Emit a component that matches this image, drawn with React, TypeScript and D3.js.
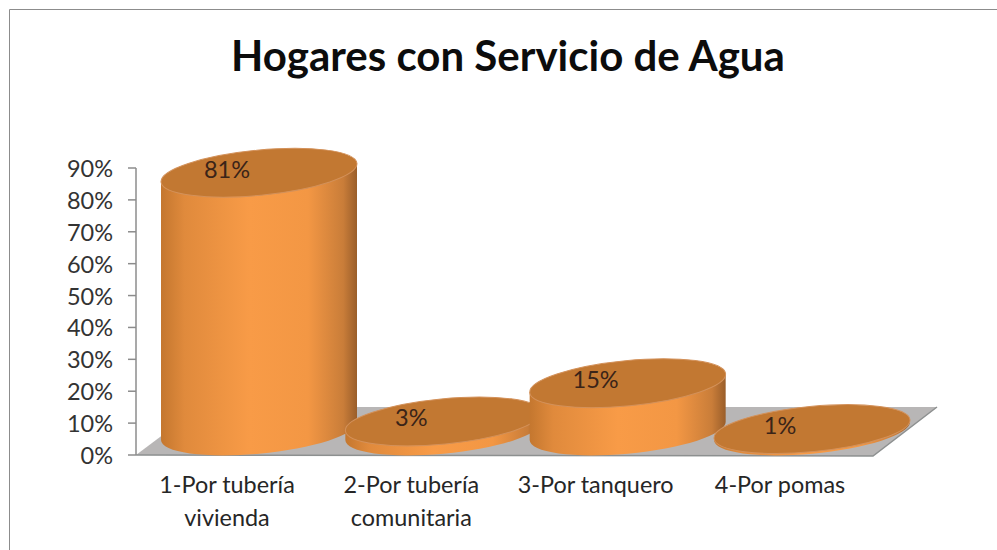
import React from "react";
import * as d3 from "d3";

const categories = [["1-Por tubería", "vivienda"], ["2-Por tubería", "comunitaria"], ["3-Por tanquero"], ["4-Por pomas"]];
const values = [0.81, 0.03, 0.15, 0.006];
const valueLabels = ["81%", "3%", "15%", "1%"];
const yTicks = [0, 0.1, 0.2, 0.3, 0.4, 0.5, 0.6, 0.7, 0.8, 0.9];
const title = "Hogares con Servicio de Agua";

const W = 997, H = 550;
const FONT = "Lato, Carlito, 'Open Sans', sans-serif";
const y = d3.scaleLinear().domain([0, 0.9]).range([455, 168]);
const xc = d3.scalePoint<number>().domain([0, 1, 2, 3]).range([259, 812]);
const xLab = d3.scalePoint<number>().domain([0, 1, 2, 3]).range([227, 780]);
const floorPts: [number, number][] = [[136, 455], [873, 456], [937, 407], [200, 407]];
const area = d3.line();
const DEPTH = 24;
const A = 98.4, B = 22.6, ROT = -5.5;
const TX = 98, TY = 9; // tangent-point offsets

function Cyl({ i }: { i: number }) {
  const cx = xc(i)!;
  const topY = y(values[i]) - DEPTH;
  const baseY = y(0) - DEPTH;
  const body = `M${cx - TX},${topY + TY}L${cx - TX},${baseY + TY}A${A},${B} ${ROT} 0 0 ${cx + TX},${baseY - TY}L${cx + TX},${topY - TY}Z`;
  return (
    <g>
      <path d={body} fill="url(#body)" />
      <ellipse cx={cx} cy={topY} rx={A} ry={B} transform={`rotate(${ROT} ${cx} ${topY})`} fill="#c27832" stroke="#d3915a" strokeWidth={1} />
    </g>
  );
}

export default function App() {
  return (
    <svg width={W} height={H} style={{ position: "absolute", left: 0, top: 0, background: "#fff" }}>
      <defs>
        <linearGradient id="body" x1="0" x2="1" y1="0" y2="0">
          <stop offset="0" stopColor="#c4772f" />
          <stop offset="0.12" stopColor="#e08a3c" />
          <stop offset="0.45" stopColor="#f89b47" />
          <stop offset="0.75" stopColor="#f39744" />
          <stop offset="0.93" stopColor="#c97d39" />
          <stop offset="1" stopColor="#9a5e2a" />
        </linearGradient>
      </defs>
      <path d={`M9.5,${H}V9.5H${W}`} fill="none" stroke="#8c8c8c" strokeWidth={1} />
      <text x={508} y={71} textAnchor="middle" fontFamily={FONT} fontWeight={700} fontSize={42} fill="#0c0c0c">{title}</text>

      <path d={area(floorPts)! + "Z"} fill="#b8b6b6" />
      <path d={area([floorPts[0], floorPts[1], floorPts[2]])!} fill="none" stroke="#8d9090" strokeWidth={1.5} />
      <line x1={136} x2={136} y1={y(0)} y2={y(0.9)} stroke="#8c8c8c" strokeWidth={1.5} />
      {yTicks.map((t) => (
        <g key={t}>
          <line x1={128} x2={136} y1={y(t)} y2={y(t)} stroke="#8c8c8c" strokeWidth={1.5} />
          <text x={113} y={y(t) + 9} textAnchor="end" fontFamily={FONT} fontSize={23.5} fill="#333">{d3.format(".0%")(t)}</text>
        </g>
      ))}
      {values.map((_, i) => <Cyl key={i} i={i} />)}
      {values.map((v, i) => (
        <text key={i} x={xc(i)! - 32} y={y(v) - DEPTH + 5} textAnchor="middle" fontFamily={FONT} fontSize={23.5} fill="#3a2418">{valueLabels[i]}</text>
      ))}
      {categories.map((lines, i) => lines.map((l, j) => (
        <text key={l} x={xLab(i)} y={493 + j * 33} textAnchor="middle" fontFamily={FONT} fontSize={23.4} fill="#262626">{l}</text>
      )))}
    </svg>
  );
}
